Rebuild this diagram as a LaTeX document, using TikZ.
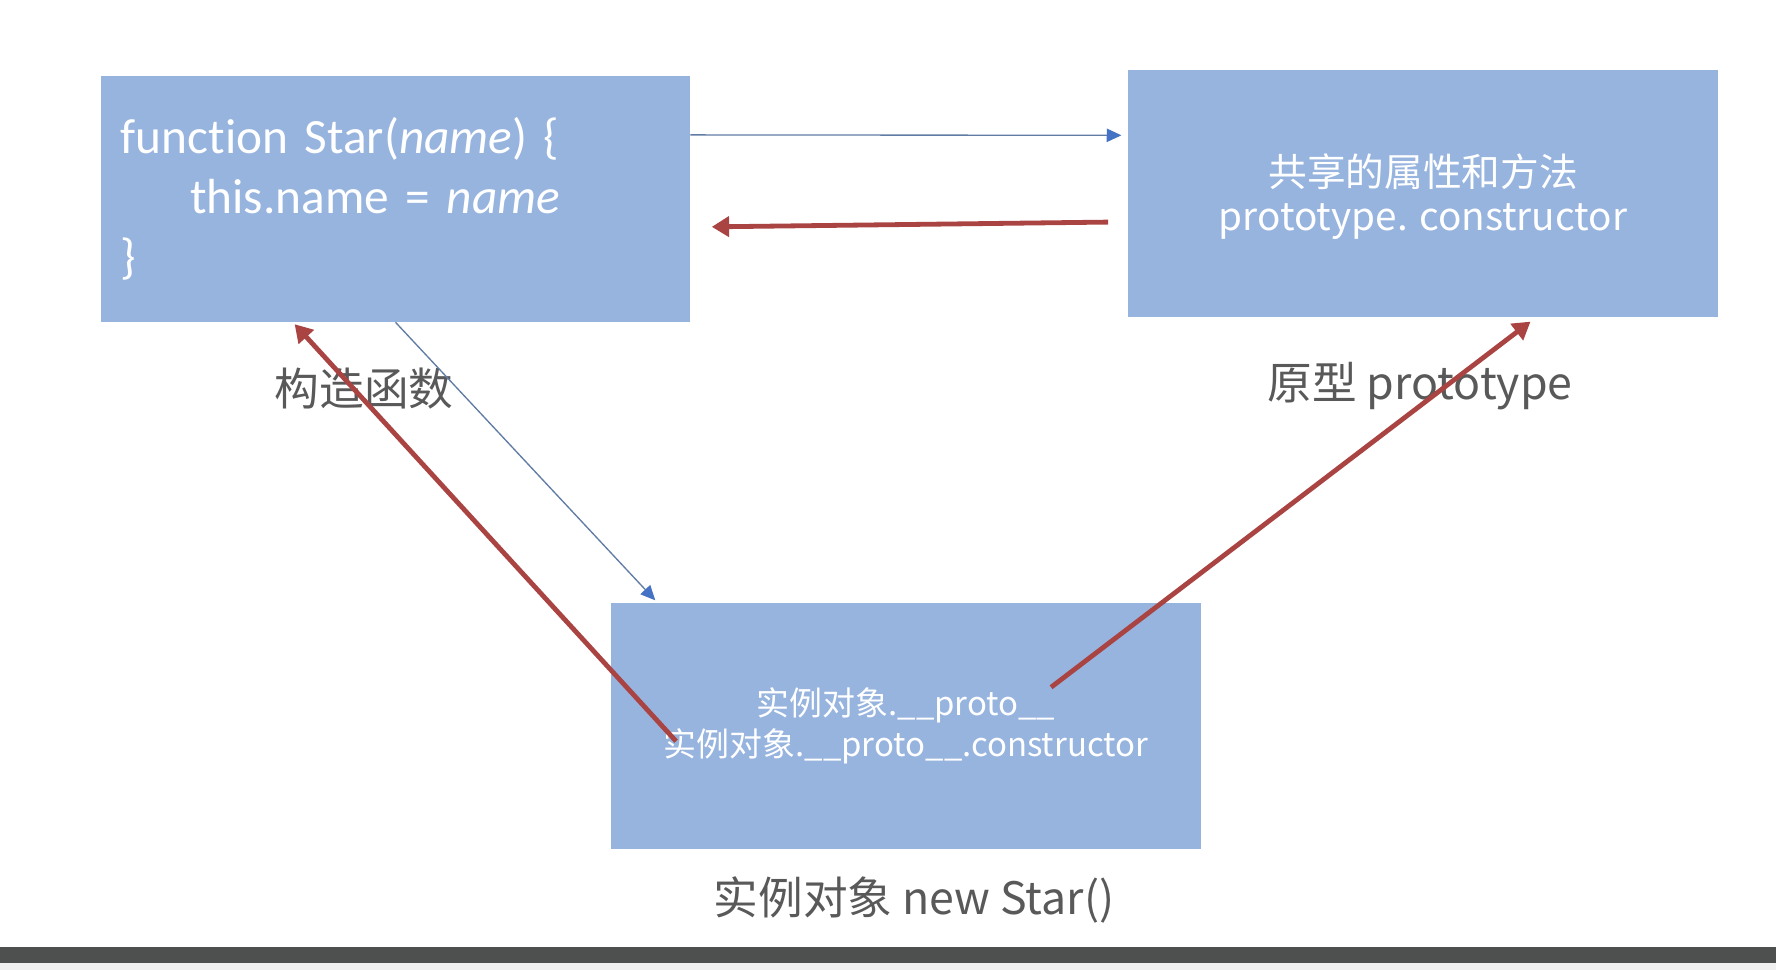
\documentclass[tikz,border=0pt]{standalone}
\usepackage{fontspec}
\setmainfont{Carlito}[Ligatures=NoCommon]
\newfontfamily\cjk{Noto Sans CJK SC}
\usetikzlibrary{arrows.meta, positioning, calc}
\definecolor{boxblue}{RGB}{151,180,223}
\definecolor{linkred}{RGB}{170,68,66}
\definecolor{linkblue}{RGB}{96,124,164}
\definecolor{tipblue}{RGB}{68,114,196}
\definecolor{labelgray}{RGB}{89,89,89}
\definecolor{bardark}{RGB}{78,80,79}
\definecolor{barlight}{RGB}{240,240,240}
\tikzset{
  objbox/.style={fill=boxblue, minimum width=442pt, minimum height=184.5pt, inner sep=0pt, text=white},
  tag/.style={text=labelgray, font=\cjk\fontsize{33.5}{38}\selectfont, inner sep=0pt},
  thinlink/.style={draw=linkblue, line width=1pt, -{Triangle[length=11pt, width=10pt, color=tipblue]}},
  thicklink/.style={draw=linkred, line width=3.6pt, -{Triangle[length=13pt, width=15pt]}}
}

\begin{document}
\begin{tikzpicture}[x=0.75pt, y=-0.75pt]
    \useasboundingbox (0,0) rectangle (1776,970);
    \fill[white] (0,0) rectangle (1776,970);
    % the three objects
    \node[objbox, text width=412pt, align=left, font=\fontsize{37}{45}\selectfont] (ctor) at (395.5,199)
        {function Star(\textit{name}) \{\\\hspace*{52pt}this.name = \textit{name}\\\}};
    \node[objbox, font=\cjk\fontsize{29}{33}\selectfont] (proto) at (1423,193.5)
        {\raisebox{-2.6pt}[\height][\depth]{\parbox{400pt}{\centering 共享的属性和方法\\prototype. constructor}}};
    \node[objbox, align=center, font=\cjk\fontsize{24.7}{31}\selectfont] (inst) at (906,725.5)
        {实例对象.\_\_proto\_\_\\实例对象.\_\_proto\_\_.constructor};
    % captions
    \node[tag] (ctorlbl) at (364,389) {构造函数};
    \node[tag] (protolbl) at (1420,386) {原型 prototype};
    \node[tag] (instlbl) at (914,900) {实例对象 new Star()};
    % links
    \draw[thinlink, shorten >=5pt] ($(ctor.north east)!0.24!(ctor.south east)$) -- ($(proto.north west)!0.264!(proto.south west)$);
    \draw[thicklink, shorten <=15pt, shorten >=16pt] ($(proto.north west)!0.615!(proto.south west)$) -- ($(ctor.north east)!0.614!(ctor.south east)$);
    \draw[thinlink, shorten >=2pt] (ctor.south) -- ($(inst.north west)!0.078!(inst.north east)$);
    \coordinate (instL) at ($(inst.north west)+(65,139)$);
    \coordinate (instR) at ($(inst.north west)+(440,85)$);
    \draw[thicklink, shorten >=2pt] (instL) -- ($(ctor.south west)!0.326!(ctor.south east)$);
    \draw[thicklink, shorten >=6pt] (instR) -- ($(proto.south west)!0.693!(proto.south east)$);
    % bottom bar
    \fill[bardark] (0,947) rectangle (1776,963);
    \fill[barlight] (0,963) rectangle (1776,970);
\end{tikzpicture}
\end{document}
